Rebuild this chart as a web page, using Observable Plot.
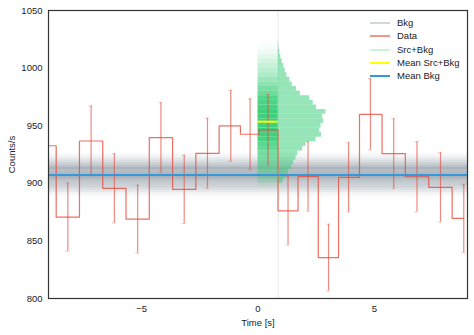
<!DOCTYPE html>
<html><head><meta charset="utf-8">
<script src="https://cdn.jsdelivr.net/npm/d3@7"></script>
<script src="https://cdn.jsdelivr.net/npm/@observablehq/plot@0.6"></script>
<style>
body{margin:0;background:#fff;}
#wrap{position:relative;width:474px;height:335px;font-family:"Liberation Sans",Arial,sans-serif;}
#legend{position:absolute;left:370px;top:16px;font-size:9.5px;color:#222;}
.row{position:relative;height:13.3px;line-height:13.3px;white-space:nowrap;}
.sw{position:absolute;left:0;top:6px;width:20px;height:2px;}
.lb{position:absolute;left:27px;top:0;}
</style></head><body><div id="wrap"></div>
<script>
// Light curve (step 'mid'), time in s, rate in counts/s
const times  = [-9.17,-8.17,-7.17,-6.17,-5.17,-4.17,-3.17,-2.17,-1.17,-0.34,0.43,1.29,2.15,3.03,3.89,4.83,5.83,6.83,7.84,8.84];
const rates  = [932.6,870.7,936.7,895.6,868.9,939.6,894.7,926.0,949.8,942.6,946.3,876.1,905.9,835.5,905.2,959.9,925.7,905.7,896.5,869.5];
const errors = [30.5,29.6,30.3,30.0,29.4,30.4,29.6,30.4,30.8,30.7,30.7,29.7,30.1,29.0,30.0,30.9,30.4,30.4,30.0,29.7];

// Background samples: level (counts/s) and relative density
const bkgLevels  = [889,891,893,895,897,899,901,903,905,907,909,911,913,915,917,919,921,923,925];
const bkgWeights = [0.05,0.1,0.2,0.3,0.4,0.45,0.5,0.6,0.7,0.75,0.65,0.6,0.7,0.55,0.4,0.3,0.2,0.1,0.05];
const bkgMean = 907.2;

// Src+Bkg samples histogram: bin centre (counts/s) and bar length
const srcLevels = [898,902,906,910,914,918,922,926,930,934,938,942,946,950,954,958,962,966,970,974,978,982,986,990,994,998,1002,1006,1010,1014,1018,1022];
const srcCounts = [0.03,0.2,0.31,0.44,0.56,0.66,0.76,0.84,1.05,1.2,1.62,1.86,1.78,1.84,1.95,1.9,2.05,1.64,1.5,1.35,0.95,0.78,0.6,0.5,0.37,0.3,0.24,0.17,0.11,0.06,0.03,0.01];
const srcMean = 953.5;
const srcStart = 0, srcEnd = 0.87;

const xTicks = [-5, 0, 5];
const yTicks = [800, 850, 900, 950, 1000, 1050];

const data = times.map((t, i) => ({t, r: rates[i], e: errors[i]}));
const bkg = bkgLevels.map((v, i) => ({lo: v - 1, hi: v + 1, w: bkgWeights[i]}));
const src = srcLevels.map((v, i) => ({lo: v - 2, hi: v + 2, n: srcCounts[i]}));

const RED = "#e74c3c", BLUE = "#3498db", GREEN = "#2ecc71", SLATE = "#34495e";

const plot = Plot.plot({
  width: 474, height: 335,
  marginLeft: 48, marginRight: 7, marginTop: 10, marginBottom: 37,
  style: {fontFamily: '"Liberation Sans", Arial, sans-serif', fontSize: "9.5px", color: "#222", background: "#fff"},
  x: {domain: [-9, 9]},
  y: {domain: [800, 1050]},
  marks: [
    Plot.rect(bkg, {y1: "lo", y2: "hi", fill: SLATE, fillOpacity: d => d.w * 0.6}),
    Plot.ruleX([srcEnd], {stroke: "#e9e9e9", strokeWidth: 1}),
    Plot.rect(src, {x1: srcStart, x2: srcEnd, y1: "lo", y2: "hi", fill: GREEN, fillOpacity: d => 1 - Math.pow(0.85, d.n * 8)}),
    Plot.rect(src, {x1: srcEnd, x2: d => srcEnd + d.n, y1: "lo", y2: "hi", fill: GREEN, fillOpacity: 0.5}),
    Plot.line(data, {x: "t", y: "r", curve: "step", stroke: RED, strokeOpacity: 0.8, strokeWidth: 1.2, clip: true}),
    Plot.ruleX(data, {x: "t", y1: d => d.r - d.e, y2: d => d.r + d.e, stroke: RED, strokeOpacity: 0.65, strokeWidth: 1.2, clip: true}),
    Plot.ruleY(data, {y: d => d.r + d.e, x1: d => d.t - 0.08, x2: d => d.t + 0.08, stroke: RED, strokeOpacity: 0.35, clip: true}),
    Plot.ruleY(data, {y: d => d.r - d.e, x1: d => d.t - 0.08, x2: d => d.t + 0.08, stroke: RED, strokeOpacity: 0.35, clip: true}),
    Plot.ruleY([srcMean], {x1: srcStart, x2: srcEnd, stroke: "#ffff00", strokeWidth: 2}),
    Plot.ruleY([bkgMean], {stroke: BLUE, strokeWidth: 1.8}),
    Plot.frame({stroke: "#333", strokeWidth: 1.2}),
    Plot.axisX({ticks: xTicks, tickSize: 0, tickPadding: 7, label: "Time [s]", labelAnchor: "center", labelArrow: "none", labelOffset: 27}),
    Plot.axisY({ticks: yTicks, tickFormat: "d", tickSize: 0, tickPadding: 6, label: "Counts/s", labelAnchor: "center", labelArrow: "none", labelOffset: 40})
  ]
});

const wrap = document.getElementById("wrap");
wrap.appendChild(plot);

const legendItems = [
  {label: "Bkg", color: SLATE, op: 0.22},
  {label: "Data", color: RED, op: 0.6},
  {label: "Src+Bkg", color: GREEN, op: 0.25},
  {label: "Mean Src+Bkg", color: "#ffff00", op: 1},
  {label: "Mean Bkg", color: BLUE, op: 1}
];
const lg = document.createElement("div");
lg.id = "legend";
for (const it of legendItems) {
  const row = document.createElement("div"); row.className = "row";
  const sw = document.createElement("div"); sw.className = "sw";
  sw.style.background = it.color; sw.style.opacity = it.op;
  const lb = document.createElement("div"); lb.className = "lb"; lb.textContent = it.label;
  row.appendChild(sw); row.appendChild(lb); lg.appendChild(row);
}
wrap.appendChild(lg);
</script>
</body></html>
